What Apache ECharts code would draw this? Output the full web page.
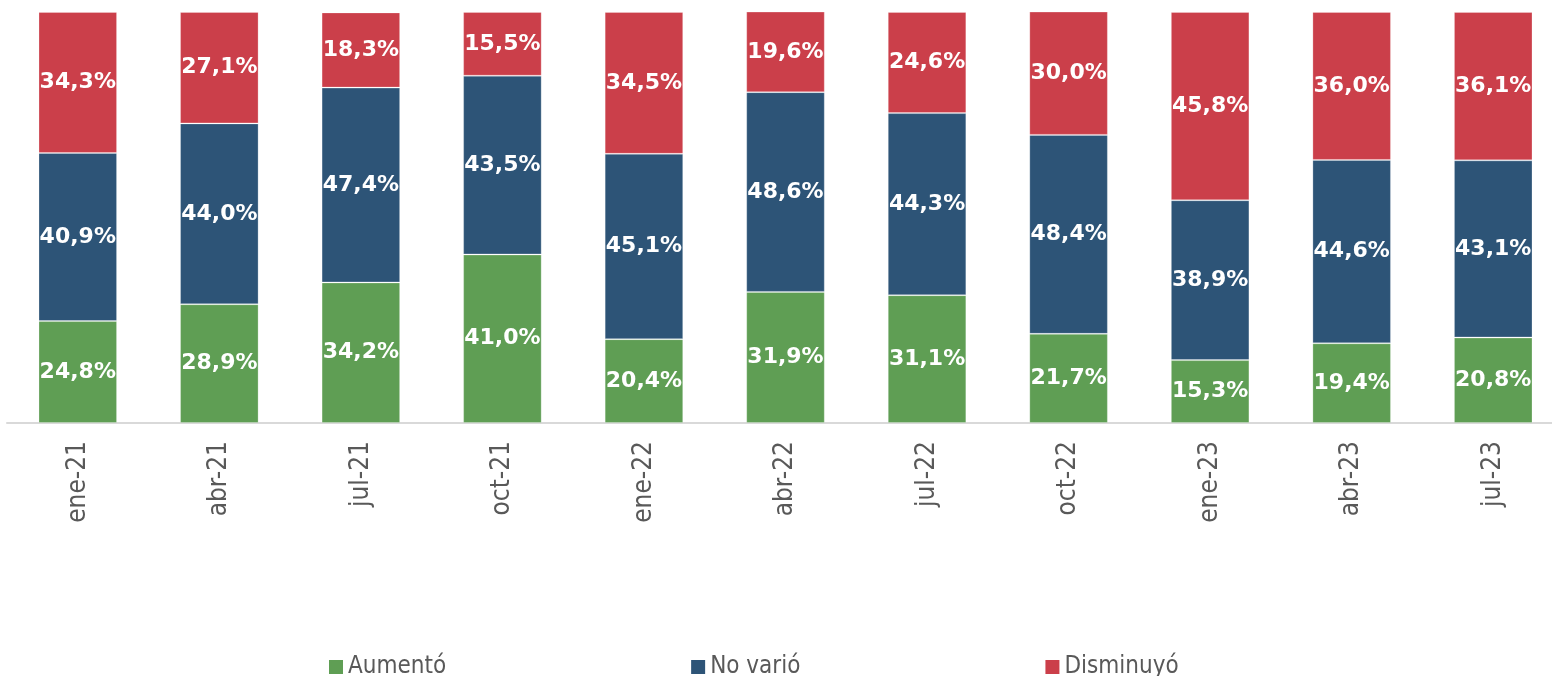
<!DOCTYPE html>
<html>
<head>
<meta charset="utf-8">
<script src="https://cdn.jsdelivr.net/npm/echarts@6/dist/echarts.min.js"></script>
<style>
html,body{margin:0;padding:0;background:#fff;}
#chart{width:1552px;height:676px;}
</style>
</head>
<body>
<div id="chart"></div>
<script>
const categories = ['ene-21','abr-21','jul-21','oct-21','ene-22','abr-22','jul-22','oct-22','ene-23','abr-23','jul-23'];
const aumento =    [24.8, 28.9, 34.2, 41.0, 20.4, 31.9, 31.1, 21.7, 15.3, 19.4, 20.8];
const noVario =    [40.9, 44.0, 47.4, 43.5, 45.1, 48.6, 44.3, 48.4, 38.9, 44.6, 43.1];
const disminuyo =  [34.3, 27.1, 18.3, 15.5, 34.5, 19.6, 24.6, 30.0, 45.8, 36.0, 36.1];
const seriesNames = ['Aumentó', 'No varió', 'Disminuyó'];
const colors = ['#5F9E54', '#2D5477', '#CB3F4A'];

const chart = echarts.init(document.getElementById('chart'), null, {renderer: 'canvas'});
const fmt = p => p.value.toFixed(1).replace('.', ',') + '%';
function mk(name, data, color) {
  return {
    name: name,
    type: 'bar',
    stack: 'total',
    data: data,
    barWidth: '55.5%',
    itemStyle: {color: color, borderColor: 'rgba(255,255,255,0.25)', borderWidth: 1},
    label: {
      show: true,
      position: 'inside',
      formatter: fmt,
      color: '#fff',
      fontFamily: 'DejaVu Sans',
      fontWeight: 'bold',
      fontSize: 22
    },
    emphasis: {disabled: true}
  };
}
chart.setOption({
  animation: false,
  color: colors,
  grid: {left: 7, width: 1557, top: 12, bottom: 253, containLabel: false, outerBoundsMode: 'none'},
  legend: {
    data: seriesNames,
    left: 329,
    top: 655,
    padding: 0,
    itemWidth: 14,
    itemHeight: 14,
    itemGap: 245,
    icon: 'rect',
    itemStyle: {borderWidth: 0},
    textStyle: {fontFamily: '"DejaVu Sans Condensed", "DejaVu Sans"', fontSize: 24, color: '#595959'}
  },
  xAxis: {
    type: 'category',
    data: categories,
    axisLine: {show: true, lineStyle: {color: '#D9D9D9', width: 2}},
    axisTick: {show: false},
    axisLabel: {
      rotate: 90,
      margin: 18,
      fontFamily: '"DejaVu Sans Condensed", "DejaVu Sans"',
      fontSize: 26,
      color: '#595959'
    }
  },
  yAxis: {
    type: 'value',
    min: 0,
    max: 100,
    show: false,
    splitLine: {show: false}
  },
  series: [
    mk(seriesNames[0], aumento, colors[0]),
    mk(seriesNames[1], noVario, colors[1]),
    mk(seriesNames[2], disminuyo, colors[2])
  ]
});
</script>
</body>
</html>
